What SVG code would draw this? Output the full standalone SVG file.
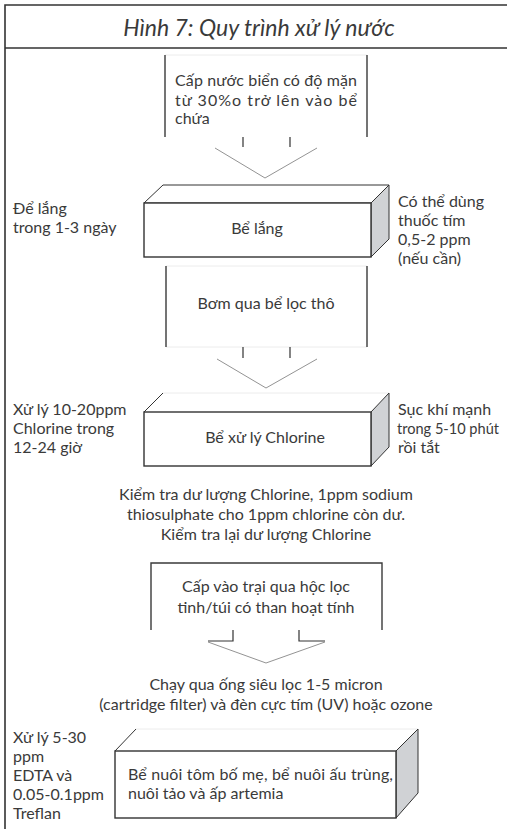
<svg xmlns="http://www.w3.org/2000/svg" width="507" height="829" viewBox="0 0 507 829">
<style>
text{font-family:Lato,"Noto Sans","Liberation Sans",sans-serif;font-size:16px;fill:#3a3a3a}
.c{text-anchor:middle}
.frame{stroke:#333;stroke-width:1.6;fill:none}
.side{stroke:#3a3a3a;stroke-width:1.4;fill:none}
.faint{stroke:#ececec;stroke-width:1;fill:none}
.tick{stroke:#333;stroke-width:1.2;fill:none}
.chev{stroke:#777;stroke-width:0.8;fill:none}
.front{fill:#fff;stroke:#333;stroke-width:1.4}
.topf{fill:#fff;stroke:#333;stroke-width:1}
.rside{fill:#d0d2d5;stroke:#333;stroke-width:1}
</style>
<rect width="507" height="829" fill="#fff"/>
<g id="frame">
<path class="frame" d="M5,829 V5 H507 M5,48 H507"/>
<text x="259" y="36" class="c" style="font-size:23px;font-style:italic">Hình 7: Quy trình xử lý nước</text>
</g>
<g id="n1">
<path class="faint" d="M165,55 H367"/>
<path class="side" d="M165,55 V137 M367,55 V137"/>
<text x="175" y="86" textLength="182" lengthAdjust="spacing">Cấp nước biển có độ mặn</text>
<text x="175" y="106" textLength="182" lengthAdjust="spacing">từ 30%o trở lên vào bể</text>
<text x="175" y="124">chứa</text>
</g>
<g id="n2">
<polygon class="topf" points="144,203 163,185 389,185 371,203"/>
<polygon class="rside" points="371,203 389,185 389,239 371,257"/>
<rect class="front" x="144" y="203" width="227" height="54"/>
<text x="257" y="234" class="c">Bể lắng</text>
</g>
<g id="n2-left">
<text x="13" y="214">Để lắng</text>
<text x="13" y="233">trong 1-3 ngày</text>
</g>
<g id="n2-right">
<text x="398" y="207">Có thể dùng</text>
<text x="398" y="226">thuốc tím</text>
<text x="398" y="245">0,5-2 ppm</text>
<text x="398" y="264">(nếu cần)</text>
</g>
<g id="n3">
<path class="faint" d="M166,266 H367 M166,347 H367"/>
<path class="side" d="M166,266 V347 M367,266 V347"/>
<text x="266" y="309" class="c">Bơm qua bể lọc thô</text>
</g>
<g id="n4">
<path class="faint" d="M163,393 H389"/>
<polygon class="rside" points="371,412 389,393 389,447 371,466"/>
<path class="topf" d="M144,412 L163,393"/>
<rect class="front" x="144" y="412" width="227" height="54"/>
<text x="265" y="443" class="c">Bể xử lý Chlorine</text>
</g>
<g id="n4-left">
<text x="13" y="415">Xử lý 10-20ppm</text>
<text x="13" y="434">Chlorine trong</text>
<text x="13" y="453">12-24 giờ</text>
</g>
<g id="n4-right">
<text x="398" y="415">Sục khí mạnh</text>
<text x="397" y="434" style="font-size:15px" textLength="102" lengthAdjust="spacingAndGlyphs">trong 5-10 phút</text>
<text x="398" y="453">rồi tắt</text>
</g>
<g id="n5">
<text x="266" y="500" class="c">Kiểm tra dư lượng Chlorine, 1ppm sodium</text>
<text x="266" y="520" class="c">thiosulphate cho 1ppm chlorine còn dư.</text>
<text x="266" y="540" class="c">Kiểm tra lại dư lượng Chlorine</text>
</g>
<g id="n6">
<path class="side" d="M151,630 V563 H382 V630"/>
<text x="266" y="592" class="c">Cấp vào trại qua hộc lọc</text>
<text x="266" y="613" class="c">tinh/túi có than hoạt tính</text>
</g>
<g id="n7">
<text x="266" y="690" class="c">Chạy qua ống siêu lọc 1-5 micron</text>
<text x="266" y="710" class="c">(cartridge filter) và đèn cực tím (UV) hoặc ozone</text>
</g>
<g id="n8">
<path class="faint" d="M136,729 H418"/>
<polygon class="rside" points="396,751 418,729 418,793 396,818"/>
<path class="topf" d="M115,751 L136,729"/>
<rect class="front" x="115" y="751" width="281" height="67"/>
<text x="128" y="780" textLength="265" lengthAdjust="spacing">Bể  nuôi tôm bố mẹ, bể nuôi ấu trùng,</text>
<text x="128" y="799">nuôi tảo và ấp artemia</text>
</g>
<g id="n8-left">
<text x="13" y="743">Xử lý 5-30</text>
<text x="13" y="762">ppm</text>
<text x="13" y="781">EDTA và</text>
<text x="13" y="800">0.05-0.1ppm</text>
<text x="13" y="819">Treflan</text>
</g>
<g id="connectors">
<path class="tick" d="M243,137 V147 M290,137 V147"/>
<path class="chev" d="M215,148 L265,178 L317,148"/>
<path class="tick" d="M243,347 V358 M290,347 V358"/>
<path class="chev" d="M217,359 L266,388 L317,359"/>
<path class="tick" d="M233,630 V641 H208 M299,630 V641 H325"/>
<path class="chev" d="M208,642 L266,663 L325,642"/>
</g>
</svg>
